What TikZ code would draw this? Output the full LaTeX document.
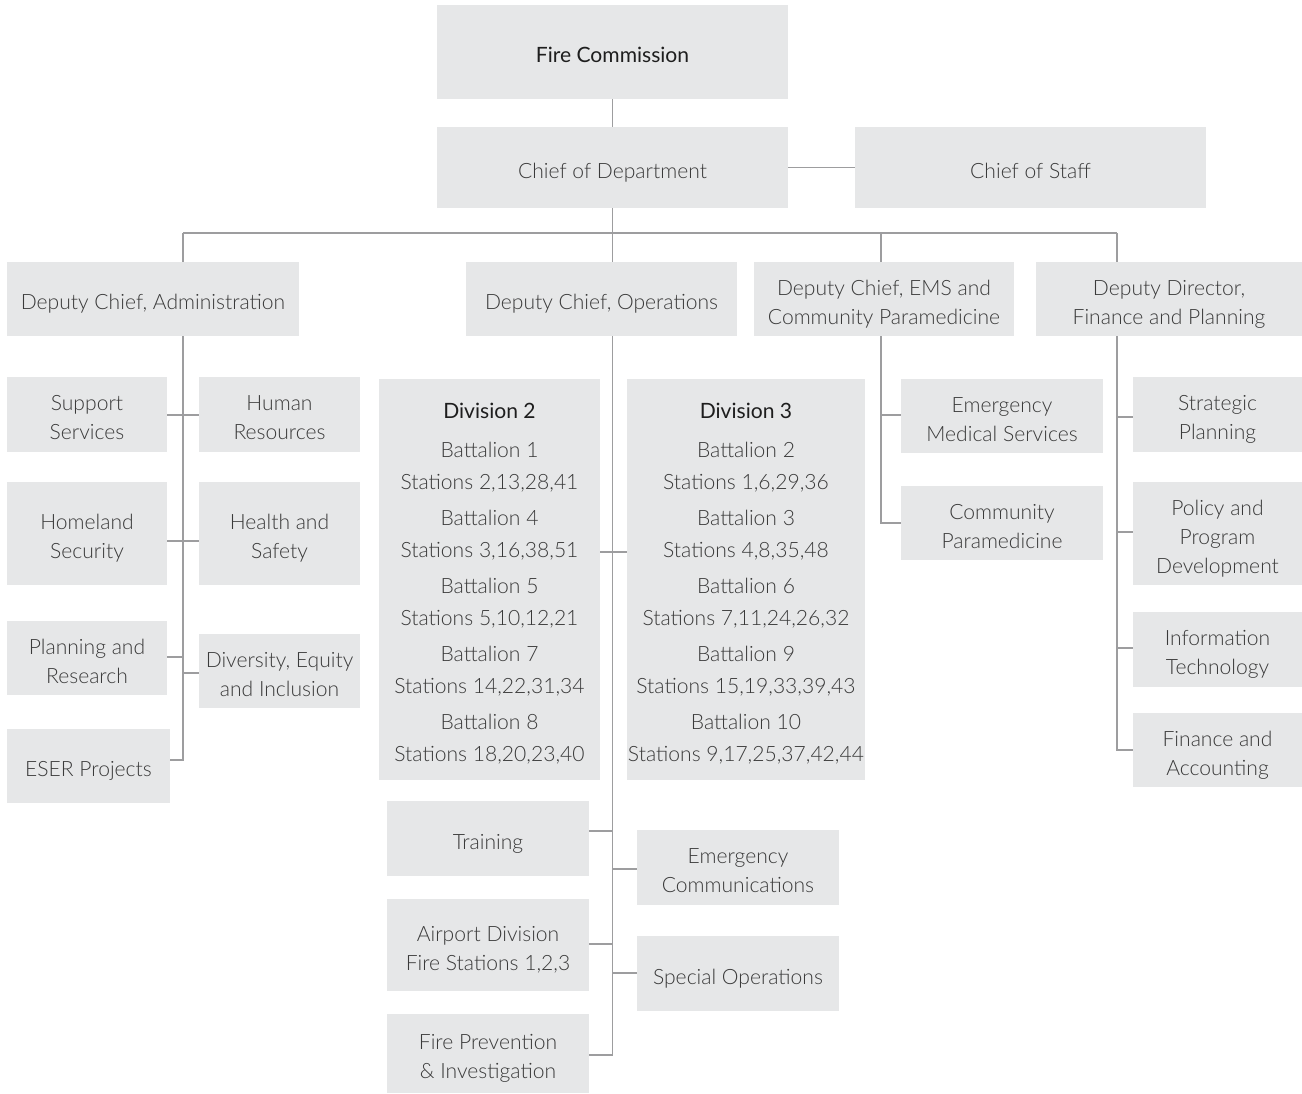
\documentclass[tikz,border=0pt]{standalone}
\usepackage{fontspec}
\setmainfont{Lato Light}
\newfontfamily\headfont{Lato}
\definecolor{boxgray}{HTML}{E6E7E8}
\definecolor{linegray}{HTML}{9D9D9F}
\definecolor{textgray}{HTML}{3A3A3A}
\definecolor{headgray}{HTML}{1E1E1E}
\newcommand{\head}[1]{{\headfont\color{headgray}#1}}
\newcommand{\lines}[1]{\begin{tabular}{@{}c@{}}\rule{0pt}{17pt}#1\end{tabular}}

\begin{document}
\begin{tikzpicture}[x=0.02cm, y=-0.02cm,
	every node/.style={font=\fontsize{12}{16.5}\selectfont, text=textgray},
	box/.style={fill=boxgray, inner sep=0pt},
	wh/.style 2 args={minimum width=#1*0.02cm, minimum height=#2*0.02cm},
	divbox/.style={box, font=\fontsize{12}{18.2}\selectfont},
	link/.style={draw=linegray, line width=1.1pt}]
	\useasboundingbox (0,0) rectangle (1302,1093);

	% top of the chart
	\node[box, wh={351}{94}] (fc) at (612.5,52) {\lines{\head{Fire Commission}}};
	\node[box, wh={351}{81}] (cod) at (612.5,167.5) {\lines{Chief of Department}};
	\node[box, wh={351}{81}] (cos) at (1030.5,167.5) {\lines{Chief of Staff}};

	% deputies
	\node[box, wh={292}{74}] (admin) at (153,299) {\lines{Deputy Chief, Administration}};
	\node[box, wh={271}{74}] (ops) at (601.5,299) {\lines{Deputy Chief, Operations}};
	\node[box, wh={260}{74}] (ems) at (884,299) {\lines{Deputy Chief, EMS and\\Community Paramedicine}};
	\node[box, wh={266}{74}] (fin) at (1169,299) {\lines{Deputy Director,\\Finance and Planning}};

	% administration
	\node[box, wh={160}{75}] (support) at (87,414.5) {\lines{Support\\Services}};
	\node[box, wh={161}{75}] (hr) at (279.5,414.5) {\lines{Human\\Resources}};
	\node[box, wh={160}{103}] (homeland) at (87,533.5) {\lines{Homeland\\Security}};
	\node[box, wh={161}{103}] (health) at (279.5,533.5) {\lines{Health and\\Safety}};
	\node[box, wh={160}{74}] (planning) at (87,658) {\lines{Planning and\\Research}};
	\node[box, wh={161}{74}] (dei) at (279.5,671) {\lines{Diversity, Equity\\and Inclusion}};
	\node[box, wh={163}{74}] (eser) at (88.5,766) {\lines{ESER Projects}};

	% operations
	\node[divbox, wh={221}{401}] (div2) at (489.5,579.5) {\lines{\head{Division 2}\\[4pt]
		Battalion 1\\Stations 2,13,28,41\\[2.3pt]
		Battalion 4\\Stations 3,16,38,51\\[2.3pt]
		Battalion 5\\Stations 5,10,12,21\\[2.3pt]
		Battalion 7\\Stations 14,22,31,34\\[2.3pt]
		Battalion 8\\Stations 18,20,23,40}};
	\node[divbox, wh={238}{401}] (div3) at (746,579.5) {\lines{\head{Division 3}\\[4pt]
		Battalion 2\\Stations 1,6,29,36\\[2.3pt]
		Battalion 3\\Stations 4,8,35,48\\[2.3pt]
		Battalion 6\\Stations 7,11,24,26,32\\[2.3pt]
		Battalion 9\\Stations 15,19,33,39,43\\[2.3pt]
		Battalion 10\\Stations 9,17,25,37,42,44}};
	\node[box, wh={202}{75}] (training) at (488,838.5) {\lines{Training}};
	\node[box, wh={202}{75}] (emcomm) at (738,867.5) {\lines{Emergency\\Communications}};
	\node[box, wh={202}{92}] (airport) at (488,945) {\lines{Airport Division\\Fire Stations 1,2,3}};
	\node[box, wh={202}{75}] (specops) at (738,973.5) {\lines{Special Operations}};
	\node[box, wh={202}{79}] (prevent) at (488,1053.5) {\lines{Fire Prevention\\\& Investigation}};

	% ems
	\node[box, wh={202}{74}] (emsvc) at (1002,416) {\lines{Emergency\\Medical Services}};
	\node[box, wh={202}{74}] (commpara) at (1002,523) {\lines{Community\\Paramedicine}};

	% finance
	\node[box, wh={169}{75}] (strat) at (1217.5,414.5) {\lines{Strategic\\Planning}};
	\node[box, wh={169}{103}] (policy) at (1217.5,533.5) {\lines{Policy and\\Program\\Development}};
	\node[box, wh={169}{75}] (it) at (1217.5,649.5) {\lines{Information\\Technology}};
	\node[box, wh={169}{74}] (finacc) at (1217.5,750) {\lines{Finance and\\Accounting}};

	% bus and spine points
	\coordinate (busL) at (183,233);
	\coordinate (busE) at (881,233);
	\coordinate (busR) at (1117,233);
	\coordinate (a1) at (183,415);
	\coordinate (a2) at (183,541);
	\coordinate (a3) at (183,657);
	\coordinate (a4) at (183,673);
	\coordinate (a5) at (183,760);
	\coordinate (o1) at (612.5,552);
	\coordinate (o2) at (612.5,831);
	\coordinate (o3) at (612.5,869);
	\coordinate (o4) at (612.5,944);
	\coordinate (o5) at (612.5,973);
	\coordinate (o6) at (612.5,1055);
	\coordinate (e1) at (881,415);
	\coordinate (e2) at (881,523);
	\coordinate (f1) at (1117,417);
	\coordinate (f2) at (1117,532);
	\coordinate (f3) at (1117,648);
	\coordinate (f4) at (1117,750);

	% connectors
	\draw[link] (fc) -- (cod);
	\draw[link] (cod) -- (cos);
	\draw[link] (busL) -- (busR);
	\draw[link] (cod.south) -- (cod.south |- ops.north);
	\draw[link] (busL) -- (busL |- admin.north);
	\draw[link] (busE) -- (busE |- ems.north);
	\draw[link] (busR) -- (busR |- fin.north);

	\draw[link] (busL |- admin.south) -- (a5) -- (eser.east |- a5);
	\draw[link] (support.east |- a1) -- (hr.west |- a1);
	\draw[link] (homeland.east |- a2) -- (health.west |- a2);
	\draw[link] (planning.east |- a3) -- (a3);
	\draw[link] (a4) -- (dei.west |- a4);

	\draw[link] (cod.south |- ops.south) -- (o6) -- (prevent.east |- o6);
	\draw[link] (div2.east |- o1) -- (div3.west |- o1);
	\draw[link] (training.east |- o2) -- (o2);
	\draw[link] (o3) -- (emcomm.west |- o3);
	\draw[link] (airport.east |- o4) -- (o4);
	\draw[link] (o5) -- (specops.west |- o5);

	\draw[link] (busE |- ems.south) -- (e2) -- (commpara.west |- e2);
	\draw[link] (e1) -- (emsvc.west |- e1);

	\draw[link] (busR |- fin.south) -- (f4) -- (finacc.west |- f4);
	\draw[link] (f1) -- (strat.west |- f1);
	\draw[link] (f2) -- (policy.west |- f2);
	\draw[link] (f3) -- (it.west |- f3);
\end{tikzpicture}
\end{document}
